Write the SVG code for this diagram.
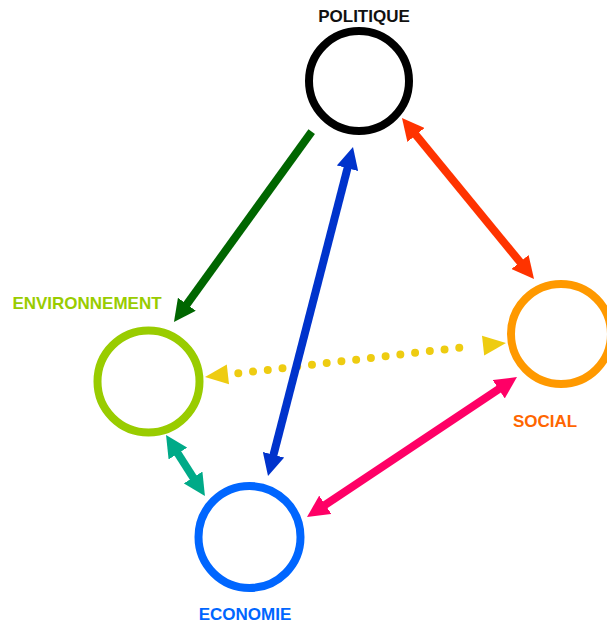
<svg xmlns="http://www.w3.org/2000/svg" width="607" height="623" viewBox="0 0 607 623">
<style>
.ring{fill:none;stroke-width:8}
.lbl{font-family:"Liberation Sans",Arial,sans-serif;font-weight:bold;font-size:17px;text-anchor:middle}
.arr{fill:none;stroke-width:8}
</style>
<defs>
<marker id="mGreen" viewBox="0 0 22 22" refX="10" refY="11" markerWidth="22" markerHeight="22" markerUnits="userSpaceOnUse" orient="auto-start-reverse"><path d="M0,0 L22,11 L0,22 z" fill="#006600"/></marker>
<marker id="mBlue" viewBox="0 0 22 22" refX="10" refY="11" markerWidth="22" markerHeight="22" markerUnits="userSpaceOnUse" orient="auto-start-reverse"><path d="M0,0 L22,11 L0,22 z" fill="#0033cc"/></marker>
<marker id="mRed" viewBox="0 0 22 22" refX="10" refY="11" markerWidth="22" markerHeight="22" markerUnits="userSpaceOnUse" orient="auto-start-reverse"><path d="M0,0 L22,11 L0,22 z" fill="#ff3300"/></marker>
<marker id="mPink" viewBox="0 0 22 22" refX="10" refY="11" markerWidth="22" markerHeight="22" markerUnits="userSpaceOnUse" orient="auto-start-reverse"><path d="M0,0 L22,11 L0,22 z" fill="#ff0066"/></marker>
<marker id="mTeal" viewBox="0 0 22 22" refX="10" refY="11" markerWidth="22" markerHeight="22" markerUnits="userSpaceOnUse" orient="auto-start-reverse"><path d="M0,0 L22,11 L0,22 z" fill="#00aa88"/></marker>
</defs>
<rect width="607" height="623" fill="#ffffff"/>
<g id="politique">
<circle class="ring" cx="359" cy="81" r="50" stroke="#000000"/>
<text class="lbl" x="364" y="22" fill="#111111">POLITIQUE</text>
</g>
<g id="environnement">
<circle class="ring" cx="148.5" cy="381.5" r="51" stroke="#99cc00"/>
<text class="lbl" x="87" y="309" fill="#99cc00">ENVIRONNEMENT</text>
</g>
<g id="social">
<circle class="ring" cx="561" cy="334" r="50" stroke="#ff9900"/>
<text class="lbl" x="545" y="427" fill="#ff6600">SOCIAL</text>
</g>
<g id="economie">
<circle class="ring" cx="249.5" cy="537" r="51" stroke="#0066ff"/>
<text class="lbl" x="245" y="620" fill="#0066ff">ECONOMIE</text>
</g>
<g id="connectors">
<path d="M238.3,373.3 L474,346" fill="none" stroke="#eecc11" stroke-width="8" stroke-linecap="round" stroke-dasharray="0 14.83"/>
<polygon points="205,377 229,384.3 226.8,364.5" fill="#eecc11"/>
<polygon points="506,343 484.2,355.5 482,335.7" fill="#eecc11"/>
<path class="arr" d="M311.7,131.7 L181,312.3" stroke="#006600" marker-end="url(#mGreen)"/>
<path class="arr" d="M350,158.6 L271,464.4" stroke="#0033cc" stroke-width="7" marker-start="url(#mBlue)" marker-end="url(#mBlue)"/>
<path class="arr" d="M409.6,127.3 L526.4,269.7" stroke="#ff3300" marker-start="url(#mRed)" marker-end="url(#mRed)"/>
<path class="arr" d="M507,383.7 L317,510.3" stroke="#ff0066" marker-start="url(#mPink)" marker-end="url(#mPink)"/>
<path class="arr" d="M172.5,445.1 L198.5,485.9" stroke="#00aa88" marker-start="url(#mTeal)" marker-end="url(#mTeal)"/>
</g>
</svg>
